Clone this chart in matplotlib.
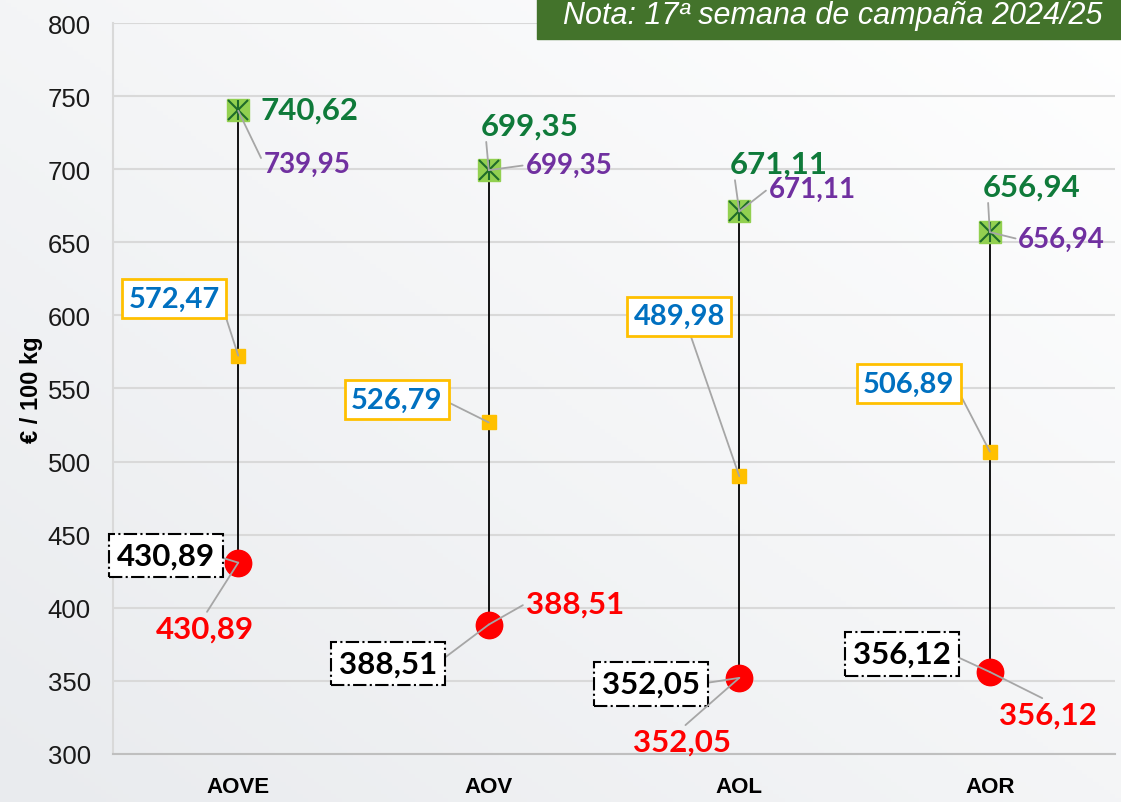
import matplotlib
matplotlib.use("Agg")
import matplotlib.pyplot as plt
import numpy as np
from matplotlib.patches import Rectangle

# datos (€ / 100 kg)
categorias = ['AOVE', 'AOV', 'AOL', 'AOR']
max_actual = [740.62, 699.35, 671.11, 656.94]
max_anterior = [739.95, 699.35, 671.11, 656.94]
medio = [572.47, 526.79, 489.98, 506.89]
min_anterior = [430.89, 388.51, 352.05, 356.12]
min_actual = [430.89, 388.51, 352.05, 356.12]

# label offsets in pixels (dx, dy)
off_green = [(71, 0), (41, 45), (39, 48), (42, 46)]
off_purple = [(69, -53), (80, 5), (73, 23), (72, -7)]
off_blue = [(-64, 57), (-92, 23), (-60, 160), (-81, 68)]
off_black = [(-72, 7), (-101, -39), (-88, -6), (-88, 18)]
off_red = [(-33, -66), (86, 21), (-57, -64), (58, -43)]


def fmt(v):
    return f"{v:.2f}".replace('.', ',')


FONT = ['Lato', 'DejaVu Sans']
LEAD = dict(arrowstyle='-', color='#a6a6a6', lw=1.3, shrinkA=0, shrinkB=0)

fig = plt.figure(figsize=(11.21, 8.03), dpi=100)

# background gradient
bg = fig.add_axes([0, 0, 1, 1], zorder=-10)
yy, xx = np.mgrid[0:1:200j, 0:1:200j]
grad = 0.5 * yy + 0.5 * (1 - xx)
bg.imshow(grad, cmap=matplotlib.colors.LinearSegmentedColormap.from_list('g', ['#ffffff', '#e9ebee']),
          extent=[0, 1, 0, 1], aspect='auto', origin='upper')
bg.axis('off')

ax = fig.add_axes([0.1008, 0.0598, 0.8939, 0.9103])
ax.set_facecolor('none')
x = np.arange(len(categorias))

ax.vlines(x, min_actual, max_actual, color='#000000', lw=1.3, zorder=2)
ax.plot(x, medio, ls='none', marker='s', ms=10, color='#ffc000', zorder=3)
ax.plot(x, min_actual, ls='none', marker='o', ms=19, color='#ff0000', zorder=3)
ax.plot(x, max_actual, ls='none', marker='s', ms=16, mfc='#92d050', mec='#92d050', zorder=3)
ax.plot(x, max_actual, ls='none', marker='x', ms=15, mew=1.5, color='#1f6b2a', zorder=4)
ax.plot(x, max_actual, ls='none', marker='|', ms=15, mew=1.5, color='#1f6b2a', zorder=4)

for i in range(len(categorias)):
    # max actual (green)
    ax.annotate(fmt(max_actual[i]), (x[i], max_actual[i]), xytext=off_green[i], textcoords='offset pixels',
                ha='center', va='center', fontsize=22.5, fontweight='bold', color='#0f7a3a', family=FONT,
                arrowprops=None if i == 0 else dict(LEAD, relpos=(0.05, 0.1)), zorder=5)
    # max anterior (purple)
    ax.annotate(fmt(max_anterior[i]), (x[i], max_anterior[i]), xytext=off_purple[i], textcoords='offset pixels',
                ha='center', va='center', fontsize=20, fontweight='bold', color='#7030a0', family=FONT,
                arrowprops=dict(LEAD, relpos=(0, 0.5)), zorder=5)
    # medio (blue in yellow box)
    ax.annotate(fmt(medio[i]), (x[i], medio[i]), xytext=off_blue[i], textcoords='offset pixels',
                ha='center', va='center', fontsize=21, fontweight='bold', color='#0070c0', family=FONT,
                bbox=dict(boxstyle='square,pad=0.22', fc='white', ec='#ffc000', lw=2),
                arrowprops=dict(LEAD, relpos=(1, 0.5) if i != 2 else (0.6, 0)), zorder=5)
    # min anterior (black dash-dot box)
    ax.annotate(fmt(min_anterior[i]), (x[i], min_anterior[i]), xytext=off_black[i], textcoords='offset pixels',
                ha='center', va='center', fontsize=22.5, fontweight='bold', color='#000000', family=FONT,
                bbox=dict(boxstyle='square,pad=0.25', fc='white', ec='black', lw=1.5, ls='-.'),
                arrowprops=dict(LEAD, relpos=(1, 0.5)), zorder=5)
    # min actual (red)
    ax.annotate(fmt(min_actual[i]), (x[i], min_actual[i]), xytext=off_red[i], textcoords='offset pixels',
                ha='center', va='center', fontsize=22.5, fontweight='bold', color='#ff0000', family=FONT,
                arrowprops=dict(LEAD, relpos=(0.5, 1) if off_red[i][1] < 0 else (0, 0.5)), zorder=5)

ax.set_xlim(-0.5, 3.5)
ax.set_ylim(300, 800)
ax.set_yticks(np.arange(300, 801, 50))
ax.set_xticks(x)
ax.set_xticklabels(categorias, fontsize=16, fontweight='bold', family='Liberation Sans')
for lab in ax.get_yticklabels():
    lab.set_family('Liberation Sans')
    lab.set_fontsize(18.5)
ax.tick_params(axis='y', length=0, pad=16, colors='#1a1a1a')
ax.tick_params(axis='x', length=0, pad=16)
ax.grid(axis='y', color='#d9d9d9', lw=1.5)
ax.set_axisbelow(True)
for s in ['top', 'right']:
    ax.spines[s].set_visible(False)
ax.spines['left'].set_color('#d9d9d9')
ax.spines['left'].set_linewidth(1.5)
ax.spines['bottom'].set_color('#bfbfbf')
ax.spines['bottom'].set_linewidth(1.5)
ax.set_ylabel('€ / 100 kg', fontsize=17, fontweight='bold', family='Liberation Sans', labelpad=3)

# note box
fig.patches.append(Rectangle((0.479, 0.950), 0.6, 0.06, transform=fig.transFigure,
                             color='#43732b', zorder=10))
fig.text(0.502, 0.980, 'Nota: 17ª semana de campaña 2024/25', color='white', fontsize=22,
         style='italic', family='Liberation Sans', va='center', ha='left', zorder=11)

fig.savefig('out.png', dpi=100)
